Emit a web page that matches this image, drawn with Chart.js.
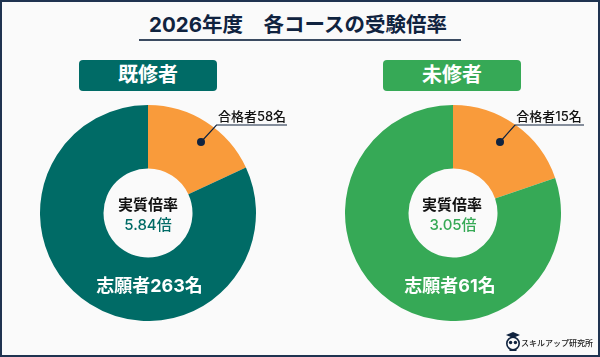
<!DOCTYPE html>
<html lang="ja"><head><meta charset="utf-8">
<script src="https://cdn.jsdelivr.net/npm/chart.js@4"></script>
<style>
html,body{margin:0;padding:0;background:#fafafa}
#f{position:relative;width:600px;height:357px;box-sizing:border-box;overflow:hidden;font-family:Inter,"Noto Sans CJK JP","Noto Sans",sans-serif;background:#fafafa}
#b{position:absolute;left:0;top:0;width:600px;height:357px;box-sizing:border-box;border:2px solid #1f3350;z-index:5;pointer-events:none}
.t{position:absolute;white-space:nowrap;text-align:center;transform:translate(-50%,-50%);line-height:1}
canvas{position:absolute;top:105px;width:216px;height:216px}
svg{position:absolute;left:0;top:0}
.pill{position:absolute;top:60px;height:31px;width:138px;border-radius:4px;color:#fff;font-weight:700;font-size:20px;line-height:30px;text-align:center}
</style></head><body>
<div id="f">
<div id="b"></div>
<div class="t" id="title" style="left:298px;top:25px;font-size:20.5px;font-weight:700;color:#10233f"></div>
<div style="position:absolute;left:139px;top:39px;width:322px;height:2px;background:#3a4a60"></div>
<div class="pill" id="p0" style="left:79px;background:#006b66"></div>
<div class="pill" id="p1" style="left:383px;background:#36a956"></div>
<canvas id="c0" width="216" height="216" style="left:40px"></canvas>
<canvas id="c1" width="216" height="216" style="left:344.5px"></canvas>
<svg width="600" height="357">
<polyline points="201,142 216.5,125 287,125" fill="none" stroke="#10233f" stroke-width="1.2"/>
<circle cx="201" cy="142" r="4" fill="#10233f"/>
<polyline points="500,142 515,125 584,125" fill="none" stroke="#10233f" stroke-width="1.2"/>
<circle cx="500" cy="142" r="4" fill="#10233f"/>
<g transform="translate(513,342)">
<path d="M-7,-7 L0,-10 L7,-7 L0,-4 Z" fill="#10233f"/>
<circle cx="0" cy="1.5" r="6.2" fill="#fafafa" stroke="#10233f" stroke-width="1.6"/>
<circle cx="-2.4" cy="0.5" r="1.7" fill="#10233f"/><circle cx="2.4" cy="0.5" r="1.7" fill="#10233f"/>
<rect x="-3.5" y="7" width="7" height="2" fill="#10233f"/>
</g>
</svg>
<div class="t" id="l0" style="left:252px;top:116px;font-size:13px;font-weight:500;color:#111"></div>
<div class="t" id="l1" style="left:549px;top:116px;font-size:13px;font-weight:500;color:#111"></div>
<div class="t" id="i0" style="left:148px;top:204px;font-size:15px;font-weight:700;color:#111"></div>
<div class="t" id="r0" style="left:148px;top:224px;font-size:15px;font-weight:500;color:#006b66"></div>
<div class="t" id="i1" style="left:452px;top:204px;font-size:15px;font-weight:700;color:#111"></div>
<div class="t" id="r1" style="left:453px;top:224px;font-size:15px;font-weight:500;color:#36a956"></div>
<div class="t" id="a0" style="left:149.5px;top:286px;font-size:18px;font-weight:700;color:#fff"></div>
<div class="t" id="a1" style="left:450px;top:286px;font-size:18px;font-weight:700;color:#fff"></div>
<div class="t" id="logo" style="left:557px;top:342.5px;font-size:8px;font-weight:500;color:#222"></div>
</div>
<script>
const titleText = "2026年度\u3000各コースの受験倍率";
const courseNames = ["既修者", "未修者"];
const passers = [58, 15];
const applicants = [263, 61];
const ratios = ["5.84", "3.05"];
const centerLabel = "実質倍率";
const brand = "スキルアップ研究所";
const orange = "#f99b3b";
const courseColors = ["#006b66", "#36a956"];
const $ = id => document.getElementById(id);
$("title").textContent = titleText;
$("logo").textContent = brand;
courseNames.forEach((name, i) => {
  $("p" + i).textContent = name;
  $("l" + i).textContent = "合格者" + passers[i] + "名";
  $("a" + i).textContent = "志願者" + applicants[i] + "名";
  $("i" + i).textContent = centerLabel;
  $("r" + i).textContent = ratios[i] + "倍";
  new Chart($("c" + i), {
    type: "doughnut",
    data: {
      labels: ["合格者", "志願者"],
      datasets: [{ data: [passers[i], applicants[i]], backgroundColor: [orange, courseColors[i]], borderWidth: 0 }]
    },
    options: {
      responsive: false, animation: false, cutout: 44.5, radius: 108,
      layout: { padding: 0 },
      plugins: { legend: { display: false }, tooltip: { enabled: false } }
    }
  });
});
</script>
</body></html>
